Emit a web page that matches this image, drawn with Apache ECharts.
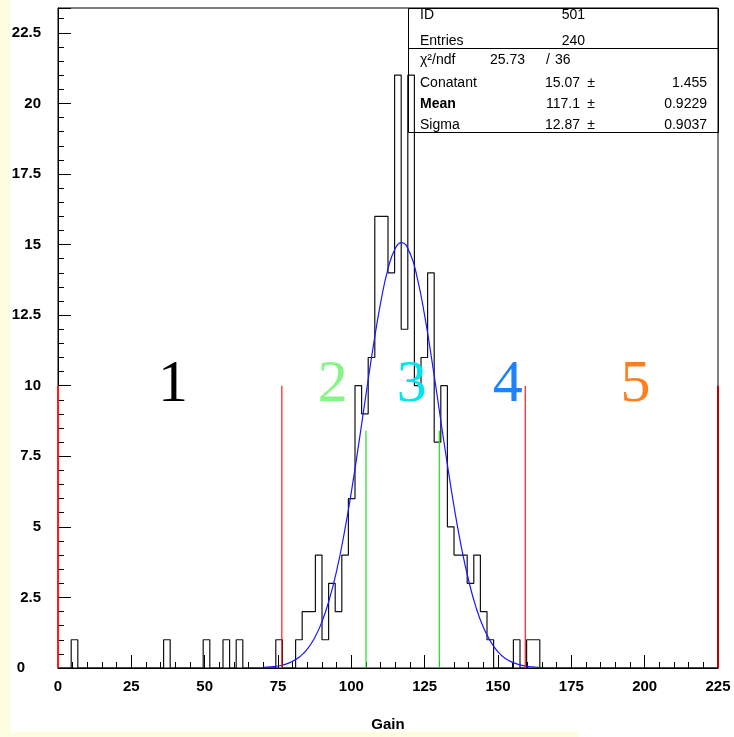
<!DOCTYPE html>
<html><head><meta charset="utf-8">
<script src="https://cdn.jsdelivr.net/npm/echarts@6/dist/echarts.min.js"></script>
<style>html,body{margin:0;padding:0;background:#fff;}#c{width:734px;height:737px;}</style>
</head><body><div id="c"></div>
<script>
// ---- histogram (ID 501, 100 bins from 0 to 225) ----
const binStart = 0;
const binWidth = 2.25;
const counts = [
  0,0,1,0,0,0,0,0,0,0,
  0,0,0,0,0,0,1,0,0,0,
  0,0,1,0,0,1,0,1,0,0,
  0,0,0,1,0,0,1,2,2,4,
  1,3,2,4,6,10,9,11,16,16,
  14,21,12,21,10,11,14,8,10,5,
  4,4,3,4,2,1,0,0,0,1,
  0,1,1,0,0,0,0,0,0,0,
  0,0,0,0,0,0,0,0,0,0,
  0,0,0,0,0,0,0,0,0,0
];
// ---- gaussian fit curve ----
const fitX = [70,72.5,75,77.5,80,82.5,85,87.5,90,92.5,95,97.5,100,102.5,105,107.5,110,112.5,115,117.1,120,122.5,125,127.5,130,132.5,135,137.5,140,142.5,145,147.5,150,152.5,155,157.5,160,162.5,165];
const fitY = [0.02,0.04,0.07,0.13,0.24,0.41,0.67,1.07,1.64,2.43,3.45,4.73,6.23,7.92,9.69,11.41,12.94,14.14,14.87,15.07,14.69,13.80,12.48,10.87,9.12,7.37,5.73,4.29,3.10,2.15,1.44,0.93,0.57,0.34,0.20,0.11,0.06,0.03,0.01];
// ---- marker lines ----
const redLineX = [0, 76.3, 159.3];
const redLineTop = 10;
const darkRedLineX = [225];
const darkRedLineTop = 10;
const greenLineX = [105.0, 130.0];
const greenLineTop = 8.4;
// ---- region numbers ----
const regionLabels = ['1','2','3','4','5'];
const regionLabelX = [39.2, 93.7, 120.6, 153.3, 196.9];
const regionLabelY = 10.0;
const regionColors = ['#000000','#86f586','#00e6f0','#1e82ff','#ff7f1e'];
// ---- stats box ----
const statNames = ['ID','Entries','χ²/ndf','Conatant','Mean','Sigma'];
const statValues = ['501','240'];
const chi2 = '25.73';
const ndf = '36';
const fitParams = ['15.07','117.1','12.87'];
const fitErrors = ['1.455','0.9229','0.9037'];
// ---- axes ----
const xMin = 0, xMax = 225, xStep = 25;
const yMin = 0, yMax = 23.38, yStep = 2.5;

const FONT = '"Liberation Sans", Arial, sans-serif';

const outline = [];
counts.forEach((c, i) => {
  const lo = binStart + i * binWidth;
  outline.push([lo, c], [lo + binWidth, c]);
});
const fitData = fitX.map((x, i) => [x, fitY[i]]);

function vline(x, top, color, width, z) {
  return {type:'line', data:[[x,0],[x,top]], symbol:'none', silent:true, z:z,
    lineStyle:{color:color, width:width}, animation:false, clip:false};
}

const series = [
  {type:'line', data:outline, symbol:'none', lineStyle:{color:'#111', width:1.2}, z:3, animation:false},
  {type:'line', data:fitData, symbol:'none', smooth:true, lineStyle:{color:'#1818ff', width:1.2}, z:4, animation:false},
];
redLineX.forEach(x => series.push(vline(x, redLineTop, '#ff1a1a', x === 0 ? 2 : 1.2, 5)));
darkRedLineX.forEach(x => series.push(vline(x, darkRedLineTop, '#c00000', 2, 5)));
greenLineX.forEach(x => series.push(vline(x, greenLineTop, '#22dd22', 1.2, 5)));
series.push({
  type:'scatter', symbolSize:1, itemStyle:{color:'rgba(0,0,0,0)', opacity:1}, z:6, animation:false, silent:true,
  data: regionLabelX.map((x, i) => ({value:[x, regionLabelY], label:{color:regionColors[i]}})),
  label:{show:true, position:'inside', fontFamily:'"Liberation Serif", "Times New Roman", serif', fontSize:60,
    textBorderWidth:0, formatter: p => regionLabels[p.dataIndex]},
  labelLayout:{hideOverlap:false}
});

// stats box graphics
const T = (text, x, y, align, bold) => ({type:'text', x:x, y:y, z:10,
  style:{text:text, fill:'#000', font:(bold ? 'bold ' : '') + '14px ' + FONT, textAlign:align, textVerticalAlign:'middle'}});
const rowY = [15, 41, 60, 83, 104, 125];
const graphics = [
  {type:'rect', shape:{x:0, y:0, width:10, height:737}, style:{fill:'#fdfde2'}, z:-10, silent:true},
  {type:'rect', shape:{x:0, y:732, width:578, height:5}, style:{fill:'#fdfde2'}, z:-10, silent:true},
  {type:'rect', shape:{x:408.5, y:8.5, width:310, height:124}, style:{fill:'none', stroke:'#000', lineWidth:1}, z:10},
  {type:'line', shape:{x1:408.5, y1:48.5, x2:718.5, y2:48.5}, style:{stroke:'#000', lineWidth:1}, z:10},
];
statNames.forEach((n, i) => graphics.push(T(n, 420, rowY[i], 'left', n === 'Mean')));
statValues.forEach((v, i) => graphics.push(T(v, 585, rowY[i], 'right')));
graphics.push(T(chi2, 525, rowY[2], 'right'));
graphics.push(T('/', 548, rowY[2], 'center'));
graphics.push(T(ndf, 555, rowY[2], 'left'));
fitParams.forEach((v, i) => {
  graphics.push(T(v, 580, rowY[3 + i], 'right'));
  graphics.push(T('±', 591, rowY[3 + i], 'center'));
  graphics.push(T(fitErrors[i], 707, rowY[3 + i], 'right'));
});

const labelStyle = {fontFamily:FONT, fontWeight:'bold', fontSize:15, color:'#000'};
const chart = echarts.init(document.getElementById('c'), null, {renderer:'canvas'});
chart.setOption({
  backgroundColor:'#ffffff',
  animation:false,
  grid:{left:58, right:16, top:8, bottom:67, show:true, borderColor:'#000', borderWidth:1, backgroundColor:'transparent'},
  xAxis:{type:'value', min:xMin, max:xMax, interval:xStep,
    name:'Gain', nameLocation:'middle', nameGap:49, nameTextStyle:labelStyle,
    axisLine:{show:true, onZero:false, lineStyle:{color:'#000', width:1}},
    axisTick:{show:true, inside:true, length:13, lineStyle:{color:'#000', width:1}},
    minorTick:{show:true, splitNumber:5, length:6, lineStyle:{color:'#000', width:1}},
    splitLine:{show:false}, minorSplitLine:{show:false},
    axisLabel:Object.assign({margin:11}, labelStyle)},
  yAxis:{type:'value', min:yMin, max:yMax, interval:yStep,
    axisLine:{show:true, onZero:false, lineStyle:{color:'#000', width:1}},
    axisTick:{show:true, inside:true, length:13, lineStyle:{color:'#000', width:1}},
    minorTick:{show:true, splitNumber:5, length:6, lineStyle:{color:'#000', width:1}},
    splitLine:{show:false}, minorSplitLine:{show:false},
    axisLabel:Object.assign({margin:17, showMaxLabel:false,
      formatter: v => v === 0 ? '{z|0}' : String(v),
      rich:{z:{fontFamily:FONT, fontWeight:'bold', fontSize:15, color:'#000', padding:[0,16,0,0]}}}, labelStyle)},
  series:series,
  graphic:graphics
});
</script></body></html>
